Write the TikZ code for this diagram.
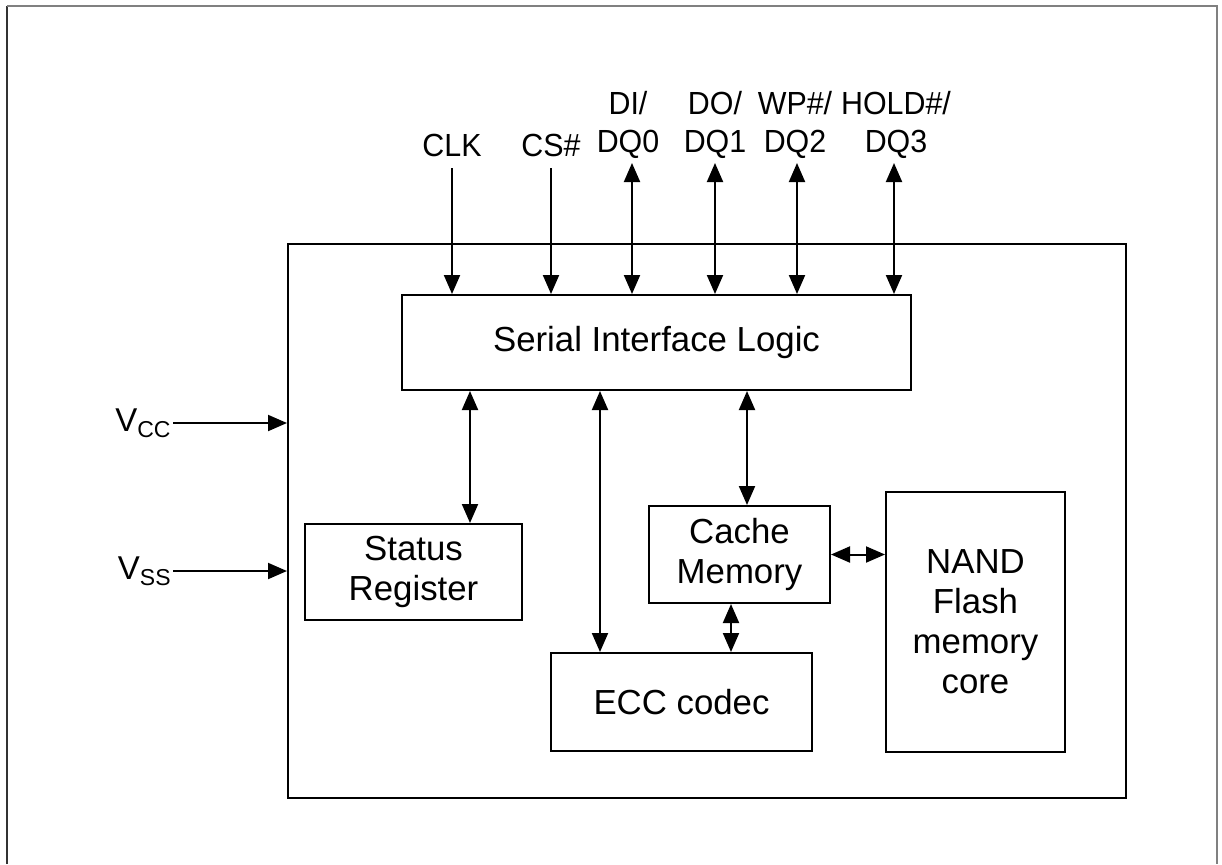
\documentclass[tikz,border=0pt]{standalone}
\usepackage{fontspec}
\setmainfont{Liberation Sans}
\newfontfamily\pinfont[FakeStretch=0.95]{Liberation Sans}
\usepackage{xcolor}
\usepackage{tikz}
\usetikzlibrary{positioning,arrows.meta}
\definecolor{ink}{HTML}{000000}
\definecolor{pGray}{HTML}{808080}
\tikzset{
  blk/.style={draw=ink, line width=1pt, inner sep=0pt, font=\fontsize{17.4}{20}\selectfont, align=center},
  pin/.style={font=\pinfont\fontsize{16}{19}\selectfont, align=center, inner sep=0pt},
  volt/.style={font=\fontsize{16.5}{18}\selectfont, inner sep=0pt},
  sig/.style={ink, line width=1pt, -{Triangle[length=9.5pt,width=8pt]}},
  bus/.style={ink, line width=1pt, {Triangle[length=9.5pt,width=8pt]}-{Triangle[length=9.5pt,width=8pt]}},
}

\begin{document}
\begin{tikzpicture}[x=0.5pt, y=-0.5pt]
\useasboundingbox (0,0) rectangle (1222,864);
% page frame
\draw[ink!80, line width=1pt] (7,864) -- (7,6);
\draw[pGray, line width=1pt] (7,6) -- (1217,6) -- (1217,864);
% chip and blocks
\node[blk, minimum width=419pt, minimum height=277pt] (chip) at (707,521) {};
\node[blk, minimum width=254.5pt, minimum height=47.5pt] (sil) at (656.5,342.5) {Serial Interface Logic};
\node[blk, minimum width=108.5pt, minimum height=48pt] (status) at (413.5,572) {Status\\Register};
\node[blk, minimum width=90.5pt, minimum height=48.5pt] (cache) at (739.5,554.5) {Cache\\Memory};
\node[blk, minimum width=130.5pt, minimum height=49pt] (ecc) at (681.5,702) {ECC codec};
\node[blk, minimum width=89.5pt, minimum height=130pt] (nand) at (975.5,622) {NAND\\Flash\\memory\\core};
% pins on top
\coordinate (clkT) at (452,168);
\coordinate (csT) at (551,168);
\coordinate (dq0T) at (632,163);
\coordinate (dq1T) at (715,163);
\coordinate (dq2T) at (797,163);
\coordinate (dq3T) at (894,163);
\node[pin, above=5.5pt of clkT] (clk) {CLK};
\node[pin, above=5.5pt of csT] (cs) {CS\#};
\node[pin, above=2pt of dq0T, xshift=-2pt] (dq0) {DI/\\DQ0};
\node[pin, above=2pt of dq1T] (dq1) {DO/\\DQ1};
\node[pin, above=2pt of dq2T, xshift=-1pt] (dq2) {WP\#/\\DQ2};
\node[pin, above=2pt of dq3T, xshift=1pt] (dq3) {HOLD\#/\\DQ3};
\draw[sig] (clkT) -- (clkT |- sil.north);
\draw[sig] (csT) -- (csT |- sil.north);
\draw[bus] (dq0T) -- (dq0T |- sil.north);
\draw[bus] (dq1T) -- (dq1T |- sil.north);
\draw[bus] (dq2T) -- (dq2T |- sil.north);
\draw[bus] (dq3T) -- (dq3T |- sil.north);
% supply
\coordinate (vccL) at (173,423);
\coordinate (vssL) at (173,571);
\node[volt, left=1pt of vccL] (vcc) {V\raisebox{-3pt}{\fontsize{11.5}{11.5}\selectfont CC}};
\node[volt, left=1pt of vssL] (vss) {V\raisebox{-3pt}{\fontsize{11.5}{11.5}\selectfont SS}};
\draw[sig] (vccL) -- (vccL -| chip.west);
\draw[sig] (vssL) -- (vssL -| chip.west);
% internal buses
\coordinate (srX) at (470,0);
\coordinate (eccX) at (600,0);
\coordinate (cmX) at (747,0);
\coordinate (ceX) at (731,0);
\draw[bus] (sil.south -| srX) -- (status.north -| srX);
\draw[bus] (sil.south -| eccX) -- (ecc.north -| eccX);
\draw[bus] (sil.south -| cmX) -- (cache.north -| cmX);
\draw[bus] (cache.south -| ceX) -- (ecc.north -| ceX);
\draw[bus] (cache.east) -- (cache.east -| nand.west);
\end{tikzpicture}
\end{document}
